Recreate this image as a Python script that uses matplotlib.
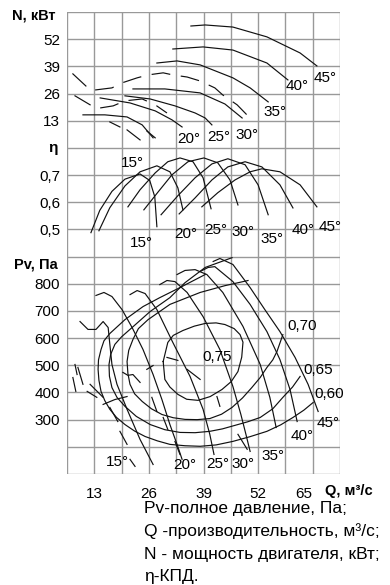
import matplotlib
matplotlib.use('Agg')
import matplotlib.pyplot as plt

plt.rcParams['font.family'] = ['Liberation Sans', 'DejaVu Sans']

## ===== Data ===== ##

q_ticks = [13, 26, 39, 52, 65]
n_ticks = [13, 26, 39, 52]
eta_ticks = [0.5, 0.6, 0.7]
eta_labels = ['0,5', '0,6', '0,7']
pv_ticks = [300, 400, 500, 600, 700, 800]

# N panel (motor power), solid parts
n45_q = [36.0, 39.4, 46.0, 54.1, 62.0, 66.0]
n45_v = [58.3, 58.8, 57.8, 53.1, 45.4, 39.2]
n40_q = [31.7, 38.9, 46.0, 54.1, 59.1]
n40_v = [47.3, 48.3, 46.8, 40.6, 32.5]
n35_q = [27.9, 32.7, 38.2, 46.0, 50.1, 54.4]
n35_v = [40.6, 41.6, 39.7, 33.5, 28.7, 22.0]
n30_q = [22.2, 29.8, 38.2, 44.1, 48.2]
n30_v = [28.2, 28.2, 26.3, 21.0, 14.3]
n25_q = [20.3, 26.3, 32.2, 37.0, 39.4, 41.0]
n25_v = [24.9, 23.4, 20.1, 16.7, 14.3, 11.0]
n20_q = [14.4, 21.5, 27.5, 31.5, 33.9]
n20_v = [23.9, 21.5, 17.7, 13.4, 10.0]
n15_q = [10.3, 15.5, 20.8, 24.4, 27.0]
n15_v = [15.8, 15.8, 14.8, 11.0, 4.8]
# N panel, broken (unstable) parts
nd1_q = [13.2, 17.2, 19.6, 23.2, 25.8, 29.4, 31.7, 35.1, 38.2, 41.7, 43.6, 47.0, 48.9, 49.8]
nd1_v = [27.7, 28.7, 31.1, 33.5, 34.9, 35.9, 34.9, 33.9, 32.0, 28.7, 25.3, 20.6, 16.7, 14.8]
nd2_q = [14.4, 17.5, 20.3, 24.4, 27.5, 30.3]
nd2_v = [19.1, 20.1, 22.5, 23.4, 20.6, 16.7]
ns_q = [(7.9, 11.0), (8.4, 12.0), (16.7, 19.1), (20.8, 23.9), (25.5, 27.5)]
ns_v = [(35.4, 29.6), (24.9, 20.6), (12.4, 10.0), (8.6, 3.8), (8.1, 4.8)]

# efficiency curves
e15_q = [12.2, 14.3, 17.2, 20.3, 23.9, 26.2, 27.4, 27.9]
e15_v = [0.488, 0.57, 0.64, 0.685, 0.704, 0.68, 0.62, 0.51]
e20_q = [14.1, 16.7, 20.3, 23.9, 27.9, 31.0, 32.9, 34.1]
e20_v = [0.495, 0.58, 0.66, 0.712, 0.734, 0.712, 0.653, 0.572]
e25_q = [21.0, 23.9, 27.5, 30.5, 33.4, 36.5, 38.9, 40.8]
e25_v = [0.583, 0.646, 0.708, 0.749, 0.763, 0.749, 0.69, 0.576]
e30_q = [24.8, 28.2, 31.5, 35.3, 39.1, 42.4, 45.3, 47.2]
e30_v = [0.572, 0.638, 0.701, 0.749, 0.763, 0.745, 0.682, 0.590]
e35_q = [28.9, 32.9, 37.0, 41.0, 44.8, 48.9, 52.0, 54.4]
e35_v = [0.554, 0.624, 0.690, 0.741, 0.760, 0.738, 0.664, 0.554]
e40_q = [33.2, 37.0, 41.0, 44.8, 48.9, 52.9, 57.2, 60.3]
e40_v = [0.557, 0.616, 0.682, 0.730, 0.749, 0.730, 0.664, 0.579]
e45_q = [38.6, 42.4, 46.5, 50.1, 52.9, 57.2, 62.0, 66.0]
e45_v = [0.583, 0.635, 0.682, 0.712, 0.723, 0.712, 0.664, 0.583]

# pressure curves
p15_q = [9.6, 11.5, 13.4, 15.1, 16.3, 16.7, 17.2, 18.4, 20.8, 23.9, 27.0]
p15_v = [661, 632, 632, 661, 639, 577, 503, 430, 338, 227, 135]
p20_q = [13.4, 15.3, 17.2, 19.6, 22.0, 24.6, 27.0, 29.1, 31.0, 32.7, 33.9]
p20_v = [757, 768, 753, 705, 639, 558, 466, 374, 282, 209, 154]
p25_q = [21.5, 23.2, 25.1, 27.9, 31.7, 35.8, 38.9, 40.5, 41.5]
p25_v = [760, 775, 764, 705, 584, 459, 338, 246, 172]
p30_q = [28.6, 30.3, 32.2, 35.1, 38.9, 42.9, 46.0, 47.9, 49.1, 50.1]
p30_v = [797, 812, 808, 768, 679, 558, 422, 319, 246, 183]
p35_q = [32.7, 34.6, 37.0, 39.8, 43.6, 48.4, 52.5, 54.8, 56.3]
p35_v = [834, 849, 852, 834, 768, 643, 503, 382, 271]
p40_q = [38.2, 40.1, 41.7, 46.0, 50.1, 54.1, 57.2, 59.6, 61.3]
p40_v = [845, 860, 863, 808, 724, 624, 521, 411, 293]
p45_q = [41.3, 42.9, 46.0, 50.1, 53.6, 57.2, 60.8, 63.9, 66.3]
p45_v = [882, 893, 871, 786, 705, 624, 529, 430, 330]

# constant efficiency lines
k75_q = [29.4, 30.5, 31.8, 34.1, 36.8, 39.4, 42.0, 44.1, 46.3, 47.7, 48.4, 48.1, 47.2,
         45.6, 43.4, 40.6, 37.7, 35.0, 32.9, 31.0, 29.8, 29.4]
k75_v = [514, 584, 610, 628, 644, 654, 656, 650, 635, 613, 585, 530, 477,
         440, 411, 385, 371, 375, 393, 420, 448, 514]
k70_q = [49.6, 44.1, 38.2, 31.0, 25.8, 23.5, 22.2, 21.2, 20.8, 21.0, 21.5, 22.6, 24.4,
         26.6, 29.1, 31.8, 34.6, 37.5, 40.5, 43.3, 45.8, 48.3, 50.5, 52.5, 54.1, 55.5, 56.5, 57.9]
k70_v = [812, 793, 768, 724, 668, 635, 595, 555, 514, 470, 430, 395, 367,
         340, 319, 307, 301, 300, 304, 320, 345, 380, 418, 455, 492, 520, 551, 613]
k65_q = [45.8, 39.4, 34.6, 31.0, 26.3, 22.0, 19.5, 17.9, 16.9, 16.5, 16.6, 17.2, 18.4,
         20.3, 23.0, 26.3, 29.8, 33.4, 37.0, 40.5, 43.5, 46.5, 49.5, 52.5, 55.5, 57.9, 60.2, 62.0]
k65_v = [896, 860, 804, 749, 698, 639, 605, 577, 540, 503, 460, 418, 382,
         349, 312, 282, 263, 253, 252, 257, 266, 279, 292, 308, 340, 382, 420, 459]
k60_q = [39.4, 33.4, 28.6, 24.6, 20.3, 16.7, 15.3, 14.6, 14.0, 13.9, 14.1, 14.6, 15.5,
         16.7, 18.3, 20.3, 22.6, 25.1, 28.0, 31.0, 34.6, 38.2, 42.0, 46.0, 50.0, 54.1, 57.4, 60.3, 62.9, 65.1]
k60_v = [834, 786, 749, 716, 668, 617, 590, 558, 520, 485, 445, 404, 370,
         338, 308, 282, 258, 238, 222, 209, 204, 202, 207, 220, 237, 257, 281, 308, 335, 363]

# broken strokes in the stall zone
ps_q = [(30.3, 32.9), (35.1, 38.2), (25.5, 27.0), (8.4, 8.9), (9.1, 10.3), (7.9, 8.6),
        (11.3, 13.6), (16.7, 18.6), (19.1, 20.8), (21.5, 22.7), (26.7, 27.9), (29.4, 30.5),
        (32.2, 33.4), (42.2, 42.9), (47.2, 49.4), (12.0, 15.1)]
ps_v = [(529, 518), (485, 448), (485, 499), (503, 466), (492, 430), (455, 404),
        (404, 382), (345, 293), (257, 209), (154, 128), (382, 330), (308, 264),
        (220, 172), (385, 349), (246, 191), (430, 382)]
hook1_q = [19.8, 21.0, 22.2, 23.9]
hook1_v = [474, 463, 466, 437]
hook2_q = [15.1, 17.9, 20.8]
hook2_v = [356, 374, 385]

# curve labels
n_lab_q = [35.5, 42.7, 49.4, 56.0, 61.3, 67.9]
n_lab_v = [4.3, 5.3, 6.2, 17.2, 29.6, 33.5]
n_lab_t = ['20°', '25°', '30°', '35°', '40°', '45°']
e_lab_q = [22.0, 24.1, 34.8, 42.0, 48.4, 55.3, 62.7, 69.1]
e_lab_v = [0.745, 0.451, 0.484, 0.499, 0.491, 0.465, 0.499, 0.510]
e_lab_t = ['15°', '15°', '20°', '25°', '30°', '35°', '40°', '45°']
p_lab_q = [18.4, 34.6, 42.5, 48.4, 55.5, 62.5, 68.6]
p_lab_v = [143, 132, 135, 135, 168, 238, 286]
p_lab_t = ['15°', '20°', '25°', '30°', '35°', '40°', '45°']
k_lab_q = [42.2, 66.3, 68.9]
k_lab_v = [529, 481, 396]
k_lab_t = ['0,75', '0,65', '0,60']

notes = ['Pv-полное давление, Па;', 'Q -производительность, м³/с;',
         'N - мощность двигателя, кВт;', 'η-КПД.']

## ================ ##

W, H = 390, 585
x0, x1, y_top, y_bot = 67, 340, 12, 474
row = (y_bot - y_top) / 17.0
GRID = '#999999'
INK = '#111111'
LW = 0.85

fig = plt.figure(figsize=(W / 100, H / 100), dpi=100)


def make_ax(top_px, nrows, ylo, yhi, step):
    bot_px = top_px + nrows * row
    ax = fig.add_axes([x0 / W, 1 - bot_px / H, (x1 - x0) / W, nrows * row / H])
    ax.set_xlim(6.5, 71.5)
    ax.set_ylim(ylo, yhi)
    for i in range(1, 12):
        ax.axvline(6.5 * i, color=GRID, lw=1.0, zorder=0)
    for i in range(nrows + 1):
        ax.axhline(ylo + step * i, color=GRID, lw=1.0, zorder=0)
    ax.set_xticks([])
    ax.tick_params(which='both', length=0, labelsize=11, pad=5)
    for s in ax.spines.values():
        s.set_visible(False)
    ax.set_facecolor('none')
    return ax, bot_px


ax_n, b1 = make_ax(y_top, 5, 0, 65, 13)
ax_e, b2 = make_ax(b1, 4, 0.4, 0.8, 0.1)
ax_p, b3 = make_ax(b2, 8, 100, 900, 100)

ax_n.set_yticks(n_ticks)
ax_e.set_yticks(eta_ticks)
ax_e.set_yticklabels(eta_labels)
ax_p.set_yticks(pv_ticks)
ax_p.set_xticks(q_ticks)
ax_p.tick_params(axis='x', pad=9)
ax_p.get_xticklabels()[-1].set_ha('right')

kw = dict(color=INK, lw=LW, clip_on=False)
dash = dict(color=INK, lw=LW, clip_on=False, dashes=(16, 9))

# N
for q, v in [(n45_q, n45_v), (n40_q, n40_v), (n35_q, n35_v), (n30_q, n30_v),
             (n25_q, n25_v), (n20_q, n20_v), (n15_q, n15_v)]:
    ax_n.plot(q, v, **kw)
ax_n.plot(nd1_q, nd1_v, **dash)
ax_n.plot(nd2_q, nd2_v, **dash)
for q, v in zip(ns_q, ns_v):
    ax_n.plot(q, v, **kw)

# eta
for q, v in [(e15_q, e15_v), (e20_q, e20_v), (e25_q, e25_v), (e30_q, e30_v),
             (e35_q, e35_v), (e40_q, e40_v), (e45_q, e45_v)]:
    ax_e.plot(q, v, **kw)

# Pv
for q, v in [(p15_q, p15_v), (p20_q, p20_v), (p25_q, p25_v), (p30_q, p30_v),
             (p35_q, p35_v), (p40_q, p40_v), (p45_q, p45_v),
             (k75_q, k75_v), (k70_q, k70_v), (k65_q, k65_v), (k60_q, k60_v),
             (hook1_q, hook1_v), (hook2_q, hook2_v)]:
    ax_p.plot(q, v, **kw)
for q, v in zip(ps_q, ps_v):
    ax_p.plot(q, v, **kw)

fs = 11
for q, v, t in zip(n_lab_q, n_lab_v, n_lab_t):
    ax_n.text(q, v, t, fontsize=fs, ha='center', va='center')
for q, v, t in zip(e_lab_q, e_lab_v, e_lab_t):
    ax_e.text(q, v, t, fontsize=fs, ha='center', va='center')
for q, v, t in zip(p_lab_q, p_lab_v, p_lab_t):
    ax_p.text(q, v, t, fontsize=fs, ha='center', va='center')
for q, v, t in zip(k_lab_q, k_lab_v, k_lab_t):
    ax_p.text(q, v, t, fontsize=fs, ha='center', va='center')
ax_p.text(58.9, 646, '0,70', fontsize=fs, ha='left', va='center')

# axis titles
fig.text(56 / W, 1 - 15 / H, 'N, кВт', fontsize=10.5, fontweight='bold', ha='right', va='center')
fig.text(58 / W, 1 - 148 / H, 'η', fontsize=11, fontweight='bold', ha='right', va='center')
fig.text(58 / W, 1 - 265 / H, 'Pv, Па', fontsize=10.5, fontweight='bold', ha='right', va='center')
fig.text(325 / W, 1 - 491 / H, 'Q, м³/с', fontsize=10.5, fontweight='bold', ha='left', va='center')

for i, line in enumerate(notes):
    fig.text(144 / W, 1 - (509 + 22.5 * i) / H, line, fontsize=12.5, ha='left', va='center')

fig.savefig('out.png', dpi=100)
